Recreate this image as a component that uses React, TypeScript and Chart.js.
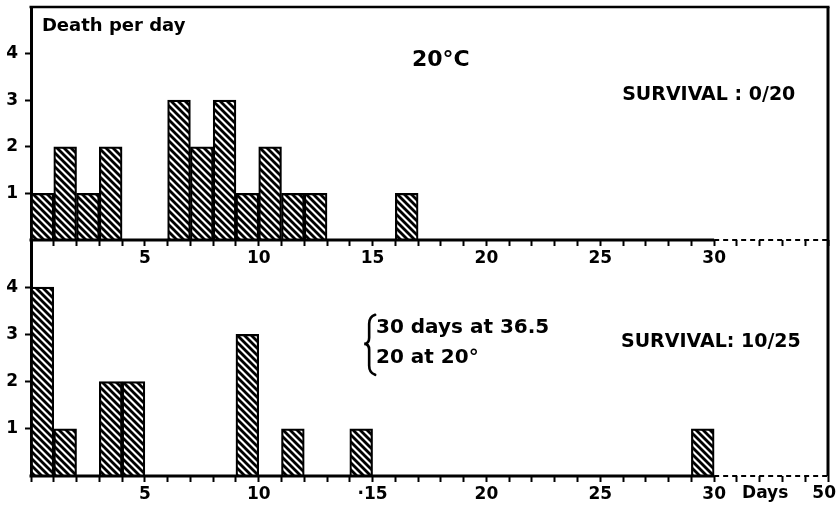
import React, { useEffect, useRef } from 'react';
import { Chart, registerables } from 'chart.js';

Chart.register(...registerables);

// ---- data ----
// day number (bar spans day-1 .. day) and deaths on that day
const TOP_DAYS = [1, 2, 3, 4, 7, 8, 9, 10, 11, 12, 13, 17];
const TOP_DEATHS = [1, 2, 1, 2, 3, 2, 3, 1, 2, 1, 1, 1];
const BOTTOM_DAYS = [1, 2, 4, 5, 10, 12, 15, 30];
const BOTTOM_DEATHS = [4, 1, 2, 2, 3, 1, 1, 1];

const X_TICKS = [0, 1, 2, 3, 4, 5, 6, 7, 8, 9, 10, 11, 12, 13, 14, 15, 16, 17, 18, 19, 20, 21, 22, 23, 24, 25, 26, 27, 28, 29, 30, 31, 32, 33, 34, 35];
const TOP_X_LABELS: Record<number, string> = { 5: '5', 10: '10', 15: '15', 20: '20', 25: '25', 30: '30' };
const BOTTOM_X_LABELS: Record<number, string> = { 5: '5', 10: '10', 15: '·15', 20: '20', 25: '25', 30: '30' };
const Y_TICKS = [1, 2, 3, 4];
const X_MAX = 35;
const Y_MAX = 5;
const SOLID_AXIS_END = 30;

const FONT = 'DejaVu Sans';

type Note = { text: string; x: number; y: number; size: number; align: CanvasTextAlign };

const TOP_NOTES: Note[] = [
  { text: 'Death per day', x: 0.48, y: 4.59, size: 18, align: 'left' },
  { text: '20°C', x: 18.0, y: 3.86, size: 22, align: 'center' },
  { text: 'SURVIVAL : 0/20', x: 25.96, y: 3.11, size: 19, align: 'left' },
];
const BOTTOM_NOTES: Note[] = [
  { text: '30 days at 36.5', x: 15.15, y: 3.14, size: 20, align: 'left' },
  { text: '20 at 20°', x: 15.15, y: 2.51, size: 20, align: 'left' },
  { text: 'SURVIVAL: 10/25', x: 25.91, y: 2.83, size: 19, align: 'left' },
  { text: 'Days', x: 32.24, y: -0.38, size: 17, align: 'center' },
  { text: '50', x: 34.83, y: -0.38, size: 17, align: 'center' },
];
const BRACE = { x: 14.85, y: 2.8 };

function makeHatch(): CanvasPattern | string {
  const s = 7;
  const c = document.createElement('canvas');
  c.width = s;
  c.height = s;
  const g = c.getContext('2d');
  if (!g) return '#000';
  g.fillStyle = '#fff';
  g.fillRect(0, 0, s, s);
  g.strokeStyle = '#000';
  g.lineWidth = 2.8;
  g.lineCap = 'square';
  for (const k of [-1, 0, 1]) {
    g.beginPath();
    g.moveTo(k * s, 0);
    g.lineTo(k * s + s, s);
    g.stroke();
  }
  const p = g.createPattern(c, 'repeat');
  return p || '#000';
}

const framePlugin = {
  id: 'frame',
  afterDatasetsDraw(chart: any, _args: any, opts: any) {
    const { ctx, chartArea: a, scales } = chart;
    const x = scales.x;
    const line = (x1: number, y1: number, x2: number, y2: number) => {
      ctx.beginPath();
      ctx.moveTo(x1, y1);
      ctx.lineTo(x2, y2);
      ctx.stroke();
    };
    ctx.save();
    ctx.strokeStyle = '#000';
    ctx.lineWidth = 3;
    line(a.right, a.top, a.right, a.bottom);
    if (opts.top) {
      ctx.lineWidth = 2.5;
      line(a.left - 1.5, a.top, a.right + 1.5, a.top);
    }
    ctx.lineWidth = 3;
    const xs = x.getPixelForValue(SOLID_AXIS_END);
    line(a.left - 1.5, a.bottom, xs, a.bottom);
    ctx.lineWidth = 2;
    ctx.setLineDash([5, 4]);
    line(xs, a.bottom, a.right, a.bottom);
    ctx.restore();
  },
};

const notesPlugin = {
  id: 'notes',
  afterDraw(chart: any, _args: any, opts: any) {
    const { ctx, scales } = chart;
    const x = scales.x;
    const y = scales.y;
    ctx.save();
    ctx.fillStyle = '#000';
    ctx.textBaseline = 'middle';
    for (const n of (opts.notes || []) as Note[]) {
      ctx.font = `bold ${n.size}px "${FONT}"`;
      ctx.textAlign = n.align;
      ctx.fillText(n.text, x.getPixelForValue(n.x), y.getPixelForValue(n.y));
    }
    if (opts.brace) {
      const cx = x.getPixelForValue(opts.brace.x);
      const cy = y.getPixelForValue(opts.brace.y);
      ctx.strokeStyle = '#000';
      ctx.lineWidth = 2.6;
      ctx.lineCap = 'round';
      ctx.beginPath();
      ctx.moveTo(cx + 6, cy - 29);
      ctx.quadraticCurveTo(cx, cy - 27, cx, cy - 20);
      ctx.lineTo(cx, cy - 6);
      ctx.quadraticCurveTo(cx, cy, cx - 5, cy);
      ctx.quadraticCurveTo(cx, cy, cx, cy + 6);
      ctx.lineTo(cx, cy + 22);
      ctx.quadraticCurveTo(cx, cy + 29, cx + 6, cy + 31);
      ctx.stroke();
    }
    ctx.restore();
  },
};

function buildConfig(days: number[], deaths: number[], labels: Record<number, string>, topPad: number, bottomPad: number, xHeight: number, isTop: boolean, notes: Note[]) {
  const hatch = makeHatch();
  return {
    type: 'bar' as const,
    data: {
      datasets: [
        {
          data: days.map((d, i) => ({ x: d - 0.5, y: deaths[i] })),
          backgroundColor: hatch,
          borderColor: '#000',
          borderWidth: 2.2,
          borderSkipped: 'start',
          barPercentage: 1,
          categoryPercentage: 1,
        },
      ],
    },
    options: {
      responsive: false,
      animation: false,
      devicePixelRatio: 1,
      layout: { padding: { top: topPad, bottom: bottomPad, left: 0, right: 8 } },
      plugins: {
        legend: { display: false },
        tooltip: { enabled: false },
        frame: { top: isTop },
        notes: { notes, brace: isTop ? null : BRACE },
      },
      scales: {
        x: {
          type: 'linear',
          min: 0,
          max: X_MAX,
          offset: false,
          afterBuildTicks: (s: any) => {
            s.ticks = X_TICKS.map((v) => ({ value: v }));
          },
          afterFit: (s: any) => {
            s.height = xHeight;
            s.paddingLeft = 0;
            s.paddingRight = 0;
          },
          border: { display: false },
          grid: {
            display: true,
            offset: false,
            drawOnChartArea: false,
            drawTicks: true,
            tickLength: 6,
            tickWidth: 2,
            tickColor: '#000',
            color: '#000',
          },
          ticks: {
            autoSkip: false,
            maxRotation: 0,
            padding: 2,
            color: '#000',
            font: { family: FONT, size: 17, weight: 'bold' },
            callback: (v: any) => labels[v as number] ?? '',
          },
        },
        y: {
          type: 'linear',
          min: 0,
          max: Y_MAX,
          afterBuildTicks: (s: any) => {
            s.ticks = Y_TICKS.map((v) => ({ value: v }));
          },
          afterFit: (s: any) => {
            s.width = 31;
            s.paddingTop = 0;
            s.paddingBottom = 0;
          },
          border: { display: true, color: '#000', width: 3 },
          grid: {
            display: true,
            drawOnChartArea: false,
            drawTicks: true,
            tickLength: 6,
            tickWidth: 2,
            tickColor: '#000',
            color: '#000',
          },
          ticks: {
            padding: 7,
            color: '#000',
            font: { family: FONT, size: 17, weight: 'bold' },
          },
        },
      },
    },
    plugins: [framePlugin, notesPlugin],
  };
}

function Panel(props: { config: () => any }) {
  const ref = useRef<HTMLCanvasElement | null>(null);
  useEffect(() => {
    if (!ref.current) return;
    const chart = new Chart(ref.current, props.config() as any);
    return () => chart.destroy();
  }, []);
  return (
    <canvas
      ref={ref}
      width={836}
      height={505}
      style={{ position: 'absolute', left: 0, top: 0, width: 836, height: 505 }}
    />
  );
}

export default function App() {
  return (
    <div style={{ position: 'fixed', left: 0, top: 0, width: 836, height: 505, background: '#fff', overflow: 'hidden' }}>
      <Panel config={() => buildConfig(TOP_DAYS, TOP_DEATHS, TOP_X_LABELS, 7, 235, 30, true, TOP_NOTES)} />
      <Panel config={() => buildConfig(BOTTOM_DAYS, BOTTOM_DEATHS, BOTTOM_X_LABELS, 240, 0, 29, false, BOTTOM_NOTES)} />
    </div>
  );
}
